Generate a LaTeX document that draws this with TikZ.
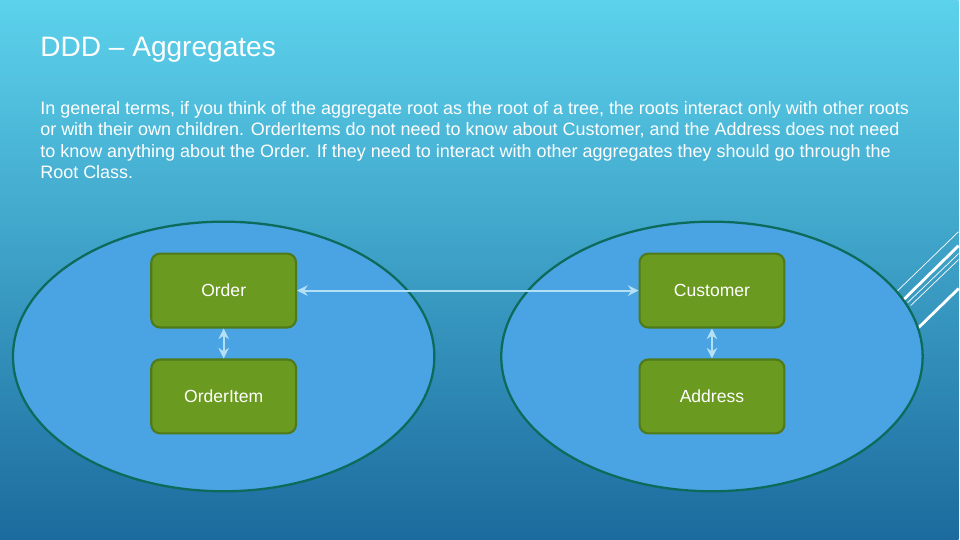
\documentclass[tikz,border=0pt]{standalone}
\usepackage{fontspec}
\setmainfont{Liberation Sans}
\usepackage{xcolor}
\usetikzlibrary{arrows.meta}
\definecolor{bgtop}{HTML}{5CD2EC}
\definecolor{bgbot}{HTML}{1C6B9E}
\definecolor{ellfill}{HTML}{4AA3E2}
\definecolor{elldraw}{HTML}{0D6B5C}
\definecolor{boxfill}{HTML}{6A9A1F}
\definecolor{boxdraw}{HTML}{4E7A1A}
\definecolor{link}{HTML}{B4E0F6}
\tikzset{
  entity/.style={draw=boxdraw, line width=1.2pt, fill=boxfill, rounded corners=5pt,
    minimum width=2.9cm, minimum height=1.48cm, text=white, font=\fontsize{10}{12}\selectfont},
  aggregate/.style={draw=elldraw, line width=1.3pt, fill=ellfill},
  relation/.style={{Stealth[length=6pt,width=6pt]}-{Stealth[length=6pt,width=6pt]}, draw=link, line width=1.2pt}
}
\begin{document}
\begin{tikzpicture}[x=0.02cm,y=-0.02cm]
        \shade[top color=bgtop, bottom color=bgbot] (0,0) rectangle (960,540);
        
        % decorative lines
        \draw[white, line width=0.4pt] (898,292) -- (960,232);
        \draw[white, line width=1.6pt] (905,300) -- (960,246);
        \draw[white, line width=0.4pt] (909,303) -- (960,254);
        \draw[white, line width=0.4pt] (912,306) -- (960,260);
        \draw[white, line width=1.6pt] (920,328) -- (960,289);
        
        \node[anchor=west, text=white, font=\fontsize{16}{19}\selectfont, inner sep=0pt] (title) at (40,50) {DDD -- Aggregates};
        \node[anchor=north west, text=white, align=left, font=\fontsize{10.25}{12.2}\selectfont, inner sep=0pt] (intro) at (40,101)
          {In general terms, if you think of the aggregate root as the root of a tree, the roots interact only with other roots\\
           or with their own children. OrderItems do not need to know about Customer, and the Address does not need\\
           to know anything about the Order. If they need to interact with other aggregates they should go through the\\
           Root Class.};
        
        % aggregates
        \draw[aggregate] (224,357) ellipse [x radius=211, y radius=135];
        \draw[aggregate] (713,357) ellipse [x radius=211, y radius=135];
        
        \node[entity] (order) at (224,291) {Order};
        \node[entity] (item) at (224,397) {OrderItem};
        \node[entity] (customer) at (713,291) {Customer};
        \node[entity] (address) at (713,397) {Address};
        
        \draw[relation] (order) -- (customer);
        \draw[relation] (order) -- (item);
        \draw[relation] (customer) -- (address);
    \end{tikzpicture}
\end{document}
